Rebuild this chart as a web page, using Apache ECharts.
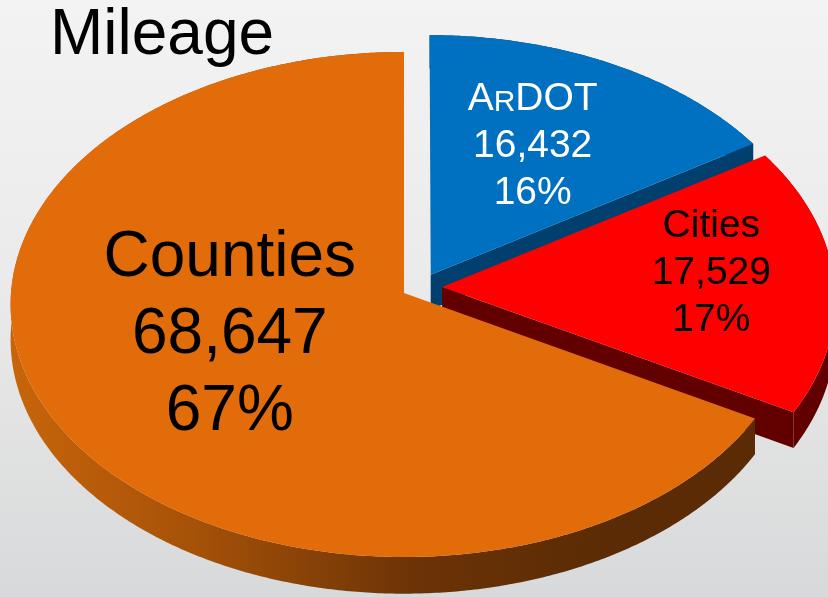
<!DOCTYPE html>
<html>
<head>
<meta charset="utf-8">
<script src="https://cdn.jsdelivr.net/npm/echarts@6/dist/echarts.min.js"></script>
<style>
  html, body { margin: 0; padding: 0; }
  #chart {
    width: 828px; height: 597px;
    background: linear-gradient(180deg, #F3F3F3 0%, #EBEBEB 45%, #D8D9DA 100%);
  }
</style>
</head>
<body>
<div id="chart"></div>
<script>
// ---- data ----
const titleText = 'Mileage';
const categories = ['ArDOT', 'Cities', 'Counties'];
const mileage = [16432, 17529, 68647];

// ---- styling ----
const FONT = '"Liberation Sans", Arial, sans-serif';
const topColors = ['#0070C0', '#FF0000', '#E36C0A'];
const labelColors = ['#FFFFFF', '#000000', '#000000'];
const labelFontSize = [39, 39, 64];
const labelLineHeight = [47, 47, 77];
const smallCapsName = [true, false, false];
// pull-out of each slice: [distance in radius units, direction in degrees clockwise from 12 o'clock]
const explode = [[0.1, 43], [0.1, 76], [0, 0]];
// label anchor: [radius fraction, angular shift from the slice middle]
const labelPlace = [[0.59, -1.8], [0.69, -3], [0.47, 9.8]];

// tilted disc seen in perspective
const DISK = { cx: 404, cy: 293, rx: 393, ry: 252, persp: 0.0455, depth: 35 };

function sideFill(i) {
  if (i === 2) {
    return new echarts.graphic.LinearGradient(10, 0, 760, 0, [
      { offset: 0, color: '#C8650B' },
      { offset: 0.25, color: '#A55108' },
      { offset: 0.54, color: '#6C3306' },
      { offset: 0.8, color: '#5A2B05' },
      { offset: 1, color: '#5A2B05' }
    ], true);
  }
  return ['#003F6E', '#620000'][i];
}
function radialFill(i) {
  return ['#003F6E', '#620000', '#5A2B05'][i];
}

// ---- geometry ----
const total = mileage.reduce((a, b) => a + b, 0);
const spans = mileage.map(v => v / total * 360);
const starts = [];
spans.reduce((acc, s) => { starts.push(acc); return acc + s; }, 0);

const rad = d => d * Math.PI / 180;
function project(nx, ny, z) {
  const w = 1 + DISK.persp * ny;
  return [DISK.cx + nx * DISK.rx / w, DISK.cy - ny * DISK.ry / w + z * DISK.depth / w];
}

// far slices are painted first
const depthKey = mileage.map((v, i) => {
  const mid = starts[i] + spans[i] / 2;
  return Math.cos(rad(mid)) + explode[i][0] * Math.cos(rad(explode[i][1]));
});
const order = depthKey.map((k, i) => i).sort((a, b) => depthKey[b] - depthKey[a]);
const rank = [];
order.forEach((idx, r) => { rank[idx] = r; });

function nameTokens(name, smallCaps) {
  if (!smallCaps) return '{cap|' + name + '}';
  let out = '';
  for (const ch of name) {
    if (ch >= 'a' && ch <= 'z') out += '{sc|' + ch.toUpperCase() + '}';
    else out += '{cap|' + ch + '}';
  }
  return out;
}

function renderSlice(params, api) {
  const i = params.dataIndex;
  const value = api.value(0);
  const a0 = starts[i], a1 = a0 + spans[i];
  const ox = explode[i][0] * Math.sin(rad(explode[i][1]));
  const oy = explode[i][0] * Math.cos(rad(explode[i][1]));
  const pt = (deg, r, z) => project(ox + r * Math.sin(rad(deg)), oy + r * Math.cos(rad(deg)), z);

  const arcTop = [], arcBot = [];
  const n = Math.max(2, Math.ceil((a1 - a0) / 0.5));
  for (let k = 0; k <= n; k++) {
    const d = a0 + (a1 - a0) * k / n;
    arcTop.push(pt(d, 1, 0));
    arcBot.push(pt(d, 1, 1));
  }
  const base = rank[i] * 10;
  const children = [];
  // outer wall
  children.push({
    type: 'polygon', silent: true,
    shape: { points: arcTop.concat(arcBot.slice().reverse()) },
    style: { fill: sideFill(i) }, z2: base + 1
  });
  // cut faces that turn toward the viewer
  [[a0, Math.sin(rad(a0))], [a1, -Math.sin(rad(a1))]].forEach(([d, facing]) => {
    if (facing < -1e-6) {
      children.push({
        type: 'polygon', silent: true,
        shape: { points: [pt(d, 0, 0), pt(d, 1, 0), pt(d, 1, 1), pt(d, 0, 1)] },
        style: { fill: radialFill(i) }, z2: base + 2
      });
    }
  });
  // top face
  children.push({
    type: 'polygon', silent: true,
    shape: { points: [pt(0, 0, 0)].concat(arcTop) },
    style: { fill: topColors[i] }, z2: base + 3
  });
  // label
  const mid = (a0 + a1) / 2 + labelPlace[i][1];
  const lp = pt(mid, labelPlace[i][0], 0);
  const fs = labelFontSize[i], lh = labelLineHeight[i];
  const sfs = Math.round(fs * 0.78);
  const pct = Math.round(value / total * 100) + '%';
  const text = [
    nameTokens(categories[i], smallCapsName[i]),
    '{cap|' + value.toLocaleString('en-US') + '}',
    '{cap|' + pct + '}'
  ].join('\n');
  children.push({
    type: 'text', silent: true,
    x: lp[0], y: lp[1], z2: 100,
    style: {
      text: text,
      align: 'center', verticalAlign: 'middle',
      fill: labelColors[i], fontSize: fs, fontFamily: FONT,
      rich: {
        cap: { fill: labelColors[i], fontSize: fs, fontFamily: FONT, lineHeight: lh, verticalAlign: 'middle' },
        // small capitals sit on the same baseline as the full-size letters
        sc: {
          fill: labelColors[i], fontSize: sfs, fontFamily: FONT, lineHeight: lh,
          height: lh - 0.693 * (fs - sfs), verticalAlign: 'bottom'
        }
      }
    }
  });
  return { type: 'group', children: children };
}

const chart = echarts.init(document.getElementById('chart'), null, { renderer: 'canvas' });
chart.setOption({
  animation: false,
  title: {
    text: titleText, left: 50, top: 4, padding: 0,
    textStyle: { fontSize: 64, fontWeight: 'normal', fontFamily: FONT, color: '#000' }
  },
  series: [{
    type: 'custom',
    coordinateSystem: 'none',
    renderItem: renderSlice,
    data: mileage.map((v, i) => ({ name: categories[i], value: v }))
  }]
});
</script>
</body>
</html>
